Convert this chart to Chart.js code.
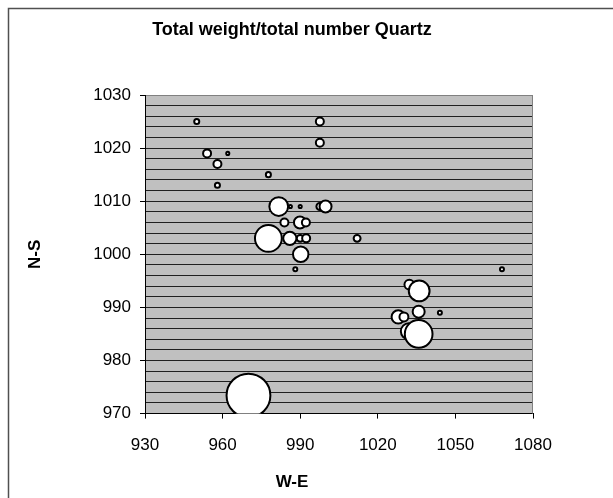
<!DOCTYPE html>
<html>
<head>
<meta charset="utf-8">
<script src="https://cdn.jsdelivr.net/npm/chart.js@4/dist/chart.umd.min.js"></script>
<style>
  html, body { margin: 0; padding: 0; background: #fff; }
  canvas { display: block; }
</style>
</head>
<body>
<canvas id="bubbleChart" width="613" height="498"></canvas>
<script>
// sample positions (W-E, N-S) and total weight / total number per sample
const weX = [950, 954, 962, 958, 958, 977.7, 997.6, 997.6, 1012, 981.7, 986.2, 990, 997.6, 999.8,
  983.9, 989.9, 992.2, 977.7, 986, 990, 992.3, 990.2, 988.1, 1032.2, 1036, 1035.8, 1044,
  1027.9, 1030.1, 1032, 1035.8, 1068, 970];
const nsY = [1025, 1019, 1019, 1017, 1013, 1015, 1025, 1021, 1003, 1009, 1009, 1009, 1009, 1009,
  1006, 1006, 1006, 1003, 1003, 1003, 1003, 1000, 997.2, 994.3, 993.1, 989.2, 989,
  988.2, 988.2, 985.5, 985, 997.2, 973.4];
const weights = [1.6, 4, 0.6, 4, 1.6, 1.6, 4, 4, 3, 22, 0.6, 0.6, 3, 9,
  4, 9, 4, 45, 11, 3, 4, 15, 1, 6, 27, 9, 1,
  11, 5, 16, 48, 1, 120];
const xTicks = [930, 960, 990, 1020, 1050, 1080];
const yRange = [970, 1030];

const font = "'Liberation Sans', Arial, sans-serif";

const points = weX.map((x, i) => ({ x: x, y: nsY[i], w: weights[i] }));

// gray plot area + outer frame
const background = {
  id: 'background',
  beforeDraw(chart) {
    const { ctx, chartArea: a } = chart;
    ctx.save();
    ctx.fillStyle = '#fff';
    ctx.fillRect(0, 0, chart.width, chart.height);
    ctx.strokeStyle = '#505050';
    ctx.lineWidth = 1.5;
    ctx.strokeRect(8.5, 8.5, 700, 600);
    ctx.fillStyle = '#c0c0c0';
    ctx.fillRect(a.left, a.top, a.right - a.left, a.bottom - a.top);
    ctx.restore();
  },
  beforeDatasetsDraw(chart) {
    const { ctx, chartArea: a } = chart;
    ctx.save();
    ctx.strokeStyle = '#808080';
    ctx.lineWidth = 1;
    ctx.beginPath();
    ctx.moveTo(a.right - 0.5, a.top);
    ctx.lineTo(a.right - 0.5, a.bottom);
    ctx.stroke();
    ctx.restore();
  }
};

new Chart(document.getElementById('bubbleChart'), {
  type: 'bubble',
  data: {
    datasets: [{
      data: points,
      backgroundColor: '#fff',
      borderColor: '#000',
      borderWidth: 2,
      radius: ctx => Math.sqrt(ctx.raw.w) * 2,
      clip: 0
    }]
  },
  options: {
    responsive: false,
    animation: false,
    events: [],
    layout: { padding: { left: 0, right: 29, top: 0, bottom: 0 } },
    plugins: {
      legend: { display: false },
      tooltip: { enabled: false },
      title: {
        display: true,
        text: 'Total weight/total number Quartz',
        color: '#000',
        font: { family: font, size: 18, weight: 'bold' },
        padding: { top: 19, bottom: 54.4 }
      },
      subtitle: {
        display: true,
        position: 'bottom',
        text: 'W-E',
        color: '#000',
        font: { family: font, size: 17, weight: 'bold' },
        padding: { top: 4, bottom: 5 }
      }
    },
    scales: {
      x: {
        type: 'linear',
        min: xTicks[0],
        max: xTicks[xTicks.length - 1],
        afterFit: s => { s.height = 55; },
        afterBuildTicks: s => { s.ticks = xTicks.map(v => ({ value: v })); },
        grid: { drawOnChartArea: false, drawTicks: true, tickLength: 5, tickColor: '#000' },
        border: { color: '#000', width: 1 },
        ticks: {
          color: '#000',
          font: { family: font, size: 17 },
          padding: 17,
          maxRotation: 0,
          callback: v => String(v)
        }
      },
      y: {
        type: 'linear',
        min: yRange[0],
        max: yRange[1],
        afterFit: s => { s.width = 145; },
        grid: {
          color: c => c.tick && c.tick.value === yRange[1] ? '#808080' : '#202020',
          lineWidth: 1,
          tickLength: 5,
          tickColor: c => c.tick && c.tick.value % 10 === 0 ? '#000' : 'rgba(0,0,0,0)'
        },
        border: { color: '#000', width: 1 },
        ticks: {
          stepSize: 2,
          autoSkip: false,
          color: '#000',
          padding: 9,
          font: { family: font, size: 17 },
          callback: v => (v % 10 === 0 ? String(v) : '')
        },
        title: {
          display: true,
          text: 'N-S',
          color: '#000',
          font: { family: font, size: 17, weight: 'bold' },
          padding: { top: 25 }
        }
      },
      spacer: {
        type: 'linear',
        position: 'right',
        display: true,
        afterFit: s => { s.width = 51; },
        grid: { display: false },
        border: { display: false },
        ticks: { display: false }
      }
    }
  },
  plugins: [background]
});
</script>
</body>
</html>
